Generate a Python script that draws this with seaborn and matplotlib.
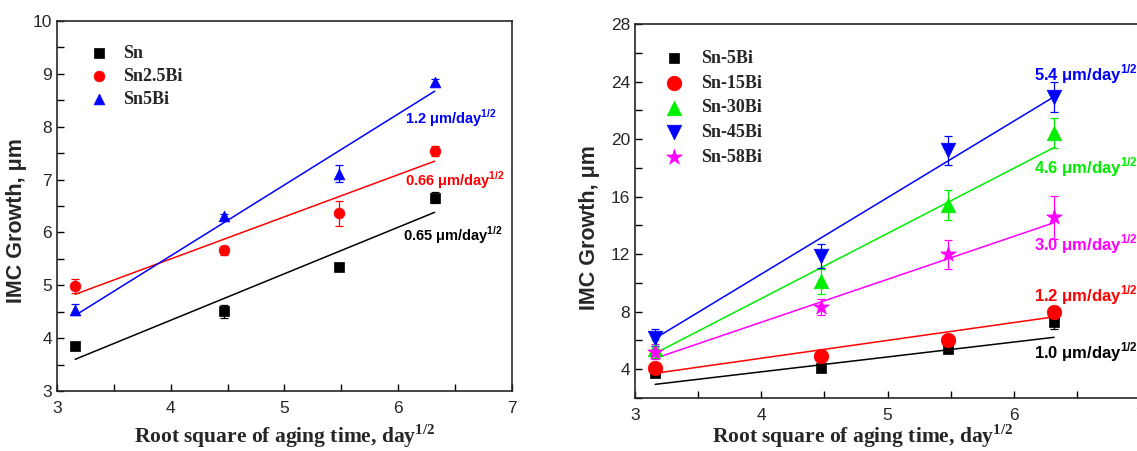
import numpy as np
import pandas as pd
import matplotlib
matplotlib.use("Agg")
import matplotlib.pyplot as plt
import seaborn as sns

sns.set_style("ticks")
plt.rcParams['font.family'] = ['Liberation Sans', 'DejaVu Sans']
plt.rcParams['mathtext.fontset'] = 'custom'
plt.rcParams['mathtext.rm'] = 'Liberation Sans'
plt.rcParams['xtick.direction'] = 'in'
plt.rcParams['ytick.direction'] = 'in'

# ---------------- data ----------------
x_days = [3.16, 4.47, 5.48, 6.32]

# left panel
left_names = ["Sn", "Sn2.5Bi", "Sn5Bi"]
left_sn = [3.86, 4.51, 5.35, 6.66]
left_sn_err = [0.04, 0.12, 0.04, 0.10]
left_sn25 = [4.98, 5.66, 6.36, 7.54]
left_sn25_err = [0.13, 0.09, 0.24, 0.09]
left_sn5 = [4.54, 6.31, 7.11, 8.85]
left_sn5_err = [0.10, 0.04, 0.16, 0.05]
left_slopes = ["1.2", "0.66", "0.65"]
# fitted lines (intercept, slope)
left_fit_a = [0.819, 2.311, 0.190]
left_fit_b = [0.880, 0.797, 1.342]

# right panel
right_names = ["Sn-5Bi", "Sn-15Bi", "Sn-30Bi", "Sn-45Bi", "Sn-58Bi"]
right_5 = [3.72, 4.07, 5.40, 7.27]
right_5_err = [0.2, 0.1, 0.1, 0.5]
right_15 = [4.07, 4.89, 6.00, 8.00]
right_15_err = [0.1, 0.1, 0.1, 0.1]
right_30 = [5.40, 10.10, 15.41, 20.40]
right_30_err = [0.6, 0.9, 1.05, 1.05]
right_45 = [6.20, 11.87, 19.23, 22.94]
right_45_err = [0.6, 0.85, 1.0, 1.05]
right_58 = [5.23, 8.35, 11.99, 14.56]
right_58_err = [0.5, 0.55, 1.0, 1.5]
right_slopes = ["5.4", "4.6", "3.0", "1.2", "1.0"]
right_fit_a = [-0.321, -0.201, -9.20, -10.65, -4.67]
right_fit_b = [1.035, 1.241, 4.528, 5.316, 2.984]

# ---------------- figure ----------------
W, H = 1137, 451
fig = plt.figure(figsize=(W / 100, H / 100), dpi=100)
axL = fig.add_axes([57 / W, 1 - 391 / H, (512 - 57) / W, (391 - 21) / H])
axR = fig.add_axes([635 / W, 1 - 398 / H, (1140 - 635) / W, (398 - 24) / H])

def draw_series(ax, ys, errs, name, color, marker, ms, fa, fb):
    df = pd.DataFrame({"x": x_days, "y": ys})
    xf = np.array([x_days[0], x_days[-1]])
    fit = pd.DataFrame({"x": xf, "y": fa + fb * xf})
    sns.lineplot(data=fit, x="x", y="y", ax=ax, color=color, lw=1.1,
                 legend=False, zorder=2)
    ax.errorbar(x_days, ys, yerr=errs, fmt="none", ecolor=color,
                elinewidth=0.9, capsize=3, capthick=0.9, zorder=3)
    sns.scatterplot(data=df, x="x", y="y", ax=ax, color=color, marker=marker,
                    s=ms, edgecolor=color, linewidth=0.5, label=name, zorder=4)

left_series = [(left_sn, left_sn_err, "black", "s", 45),
               (left_sn25, left_sn25_err, "#ff0000", "o", 60),
               (left_sn5, left_sn5_err, "#0000ff", "^", 60)]
for (ys, errs, c, m, s), n, fa, fb in zip(left_series, left_names, left_fit_a, left_fit_b):
    draw_series(axL, ys, errs, n, c, m, s, fa, fb)

right_series = [(right_5, right_5_err, "black", "s", 50),
                (right_15, right_15_err, "#ff0000", "o", 110),
                (right_30, right_30_err, "#00ee00", "^", 110),
                (right_45, right_45_err, "#0000ff", "v", 110),
                (right_58, right_58_err, "#ff00ff", "*", 140)]
for (ys, errs, c, m, s), n, fa, fb in zip(right_series, right_names, right_fit_a, right_fit_b):
    draw_series(axR, ys, errs, n, c, m, s, fa, fb)

# axes setup
for ax in (axL, axR):
    ax.set_xlim(3, 7)
    ax.set_xticks([3, 4, 5, 6, 7])
    ax.set_xticks(np.arange(3.5, 7, 1.0), minor=True)
    ax.tick_params(which="both", top=False, right=False, labelsize=12.5,
                   width=1.0, length=5, color="black")
    ax.tick_params(axis="x", which="major", pad=7)
    for sp in ax.spines.values():
        sp.set_visible(True)
        sp.set_linewidth(1.2)
    ax.set_xlabel("Root square of aging time, day$^{\\mathregular{1/2}}$",
                  fontsize=15.5, fontweight="bold", family="Liberation Serif")
    ax.set_ylabel("IMC Growth, μm", fontsize=15.5, fontweight="bold")

axL.set_ylim(3, 10)
axL.set_yticks(np.arange(3, 11, 1))
axL.set_yticks(np.arange(3.5, 10, 1.0), minor=True)
axR.set_ylim(2, 28)
axR.set_yticks(np.arange(4, 29, 4))
axR.set_yticks(np.arange(2, 28, 4), minor=True)

axL.xaxis.set_label_coords(0.50, -0.085)
axR.xaxis.set_label_coords(0.45, -0.064)
axL.yaxis.set_label_coords(-0.066, 0.46)
axR.yaxis.set_label_coords(-0.069, 0.455)

# legends
axL.legend(loc="upper left", bbox_to_anchor=(0.073, 0.935), frameon=False,
           borderaxespad=0, borderpad=0, handlelength=1.0,
           handletextpad=0.8, labelspacing=0.33,
           prop={"family": "Liberation Serif", "weight": "bold", "size": 13})
axR.legend(loc="upper left", bbox_to_anchor=(0.059, 0.930), frameon=False,
           borderaxespad=0, borderpad=0, handlelength=1.0,
           handletextpad=1.0, labelspacing=0.42,
           prop={"family": "Liberation Serif", "weight": "bold", "size": 13})

# slope annotations
ann = "{} μm/day$^{{\\mathregular{{1/2}}}}$"
left_pos = [(6.06, 8.17, "#0000ff"), (6.06, 6.99, "#ff0000"), (6.04, 5.95, "black")]
for (xx, yy, c), s in zip(left_pos, left_slopes):
    axL.text(xx, yy, ann.format(s), color=c, fontsize=10.5, fontweight="bold",
             va="center", ha="left")
right_pos = [(6.16, 24.5, "#0000ff"), (6.16, 18.06, "#00ee00"), (6.16, 12.7, "#ff00ff"),
             (6.16, 9.16, "#ff0000"), (6.16, 5.2, "black")]
for (xx, yy, c), s in zip(right_pos, right_slopes):
    axR.text(xx, yy, ann.format(s), color=c, fontsize=12, fontweight="bold",
             va="center", ha="left", clip_on=False)

fig.savefig("out.png", dpi=100)
